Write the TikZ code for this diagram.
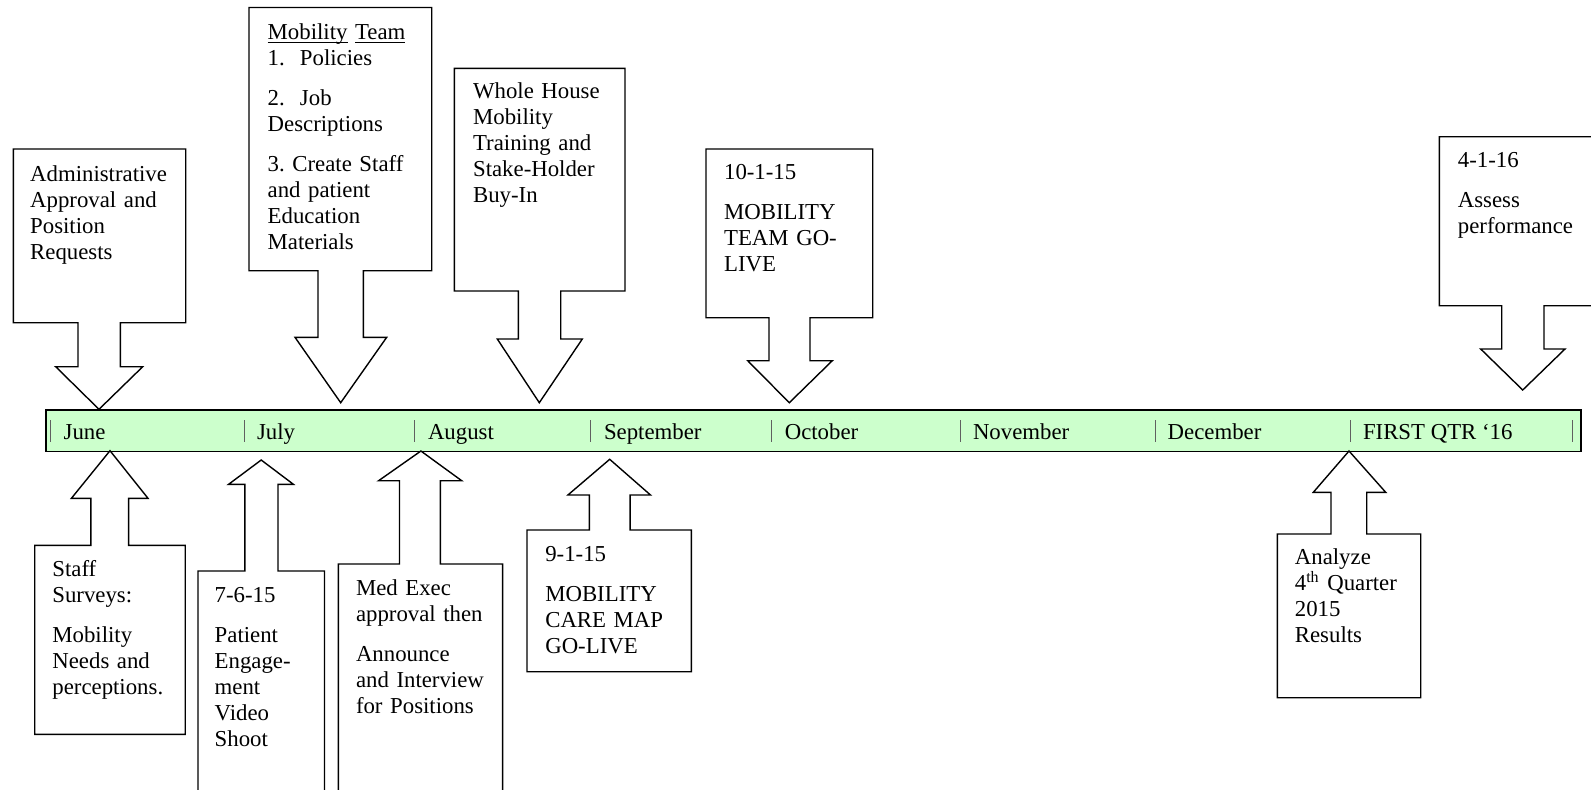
\documentclass[tikz,border=0pt]{standalone}
\usepackage{fontspec}
\setmainfont{Liberation Serif}
\definecolor{tlgreen}{HTML}{CCFFCC}
\definecolor{tickgray}{HTML}{606060}
\newsavebox{\ulbox}
\newcommand{\ulword}[1]{\sbox{\ulbox}{#1}\rlap{\rule[-1.6pt]{\wd\ulbox}{0.5pt}}\usebox{\ulbox}}
\begin{document}
\begin{tikzpicture}[x=0.5pt,y=-0.5pt,
  callout/.style={draw=black, fill=white, line width=0.7pt, line join=miter},
  lbl/.style={anchor=base west, inner sep=0pt, align=left, text width=100pt,
    font=\fontsize{11.4}{13}\selectfont\frenchspacing},
  month/.style={anchor=base west, inner sep=0pt, font=\fontsize{11.4}{13}\selectfont},
  tick/.style={draw=tickgray, line width=0.5pt}]
\useasboundingbox (0,0) rectangle (1591,789);

% timeline bar
\node (tl) [draw=black, fill=tlgreen, line width=0.8pt, inner sep=0pt, anchor=north west,
  minimum width=767.35pt, minimum height=20.7pt] at (45.3,409.3) {};
\foreach \x in {50,244.9,414.3,590.3,771.4,960,1155.7,1350,1572.7}
  \draw[tick] (\x,420) -- (\x,442);
\node[month] (mJun) at (63.3,439.5) {June};
\node[month] (mJul) at (256.6,439.5) {July};
\node[month] (mAug) at (427.6,439.5) {August};
\node[month] (mSep) at (603.6,439.5) {September};
\node[month] (mOct) at (784.4,439.5) {October};
\node[month] (mNov) at (972.6,439.5) {November};
\node[month] (mDec) at (1167.3,439.5) {December};
\node[month] (mQ1) at (1362.6,439.5) {FIRST QTR ‘16};

% down callouts
\draw[callout] (13.3,149) -- (185.7,149) -- (185.7,322.7) -- (120.3,322.7) -- (120.3,366.7) -- (142.7,366.7) -- (99,409.3) -- (55.7,366.7) -- (78,366.7) -- (78,322.7) -- (13.3,322.7) -- cycle;
\draw[callout] (249,7.5) -- (431.7,7.5) -- (431.7,270.7) -- (363.3,270.7) -- (363.3,337.3) -- (386.7,337.3) -- (340.7,402.7) -- (295,337.3) -- (318,337.3) -- (318,270.7) -- (249,270.7) -- cycle;
\draw[callout] (454.3,68.3) -- (625,68.3) -- (625,291) -- (560.7,291) -- (560.7,339) -- (582.3,339) -- (539.3,402.7) -- (497.3,339) -- (518.3,339) -- (518.3,291) -- (454.3,291) -- cycle;
\draw[callout] (706,149) -- (872.7,149) -- (872.7,317.7) -- (810,317.7) -- (810,360.7) -- (832.3,360.7) -- (789.3,402.7) -- (747.7,360.7) -- (769,360.7) -- (769,317.7) -- (706,317.7) -- cycle;
\draw[callout] (1439.3,136.7) -- (1610,136.7) -- (1610,305.7) -- (1544,305.7) -- (1544,349) -- (1565,349) -- (1522.7,390) -- (1480.7,349) -- (1501.7,349) -- (1501.7,305.7) -- (1439.3,305.7) -- cycle;

% up callouts
\draw[callout] (34.7,734.3) -- (34.7,545.3) -- (90.8,545.3) -- (90.8,498.3) -- (71.4,498.3) -- (110,450.7) -- (148,498.3) -- (128.6,498.3) -- (128.6,545.3) -- (185.2,545.3) -- (185.2,734.3) -- cycle;
\draw[callout] (198,800) -- (198,571) -- (244.9,571) -- (244.9,484.3) -- (228.6,484.3) -- (261.2,460) -- (293.4,484.3) -- (278,484.3) -- (278,571) -- (324.5,571) -- (324.5,800) -- cycle;
\draw[callout] (338.3,800) -- (338.3,564) -- (399.5,564) -- (399.5,480.7) -- (378.6,480.7) -- (420.9,451) -- (461.7,480.7) -- (440.3,480.7) -- (440.3,564) -- (502.6,564) -- (502.6,800) -- cycle;
\draw[callout] (527,671.7) -- (527,530) -- (589.3,530) -- (589.3,495) -- (567.9,495) -- (609.7,459.3) -- (650.5,495) -- (630.1,495) -- (630.1,530) -- (691.3,530) -- (691.3,671.7) -- cycle;
\draw[callout] (1277.3,697.7) -- (1277.3,534) -- (1331,534) -- (1331,492.3) -- (1313.3,492.3) -- (1349,451) -- (1385.7,492.3) -- (1366.7,492.3) -- (1366.7,534) -- (1420.7,534) -- (1420.7,697.7) -- cycle;

% texts above
\node[lbl] (tAdmin) at (29.8,181) {Administrative\\Approval and\\Position\\Requests};
\node[lbl] (tTeam) at (267.3,39.3) {\ulword{Mobility} \ulword{Team}\\1.\ \ Policies\\[7pt]2.\ \ Job\\Descriptions\\[7pt]3. Create Staff\\and patient\\Education\\Materials};
\node[lbl] (tWhole) at (472.7,98.3) {Whole House\\Mobility\\Training and\\Stake-Holder\\Buy-In};
\node[lbl] (tTeamLive) at (723.7,179.3) {10-1-15\\[7pt]MOBILITY\\TEAM GO-\\LIVE};
\node[lbl] (tAssess) at (1457.5,167.7) {4-1-16\\[7pt]Assess\\performance};

% texts below
\node[lbl] (tStaff) at (52,576.5) {Staff\\Surveys:\\[7pt]Mobility\\Needs and\\perceptions.};
\node[lbl] (tVideo) at (214.3,602) {7-6-15\\[7pt]Patient\\Engage-\\ment\\Video\\Shoot};
\node[lbl] (tMed) at (355.6,595.5) {Med Exec\\approval then\\[7pt]Announce\\and Interview\\for Positions};
\node[lbl] (tCare) at (544.9,561.5) {9-1-15\\[7pt]MOBILITY\\CARE MAP\\GO-LIVE};
\node[lbl] (tAnalyze) at (1294.5,564) {Analyze\\4\textsuperscript{th} Quarter\\2015\\Results};
\end{tikzpicture}
\end{document}
